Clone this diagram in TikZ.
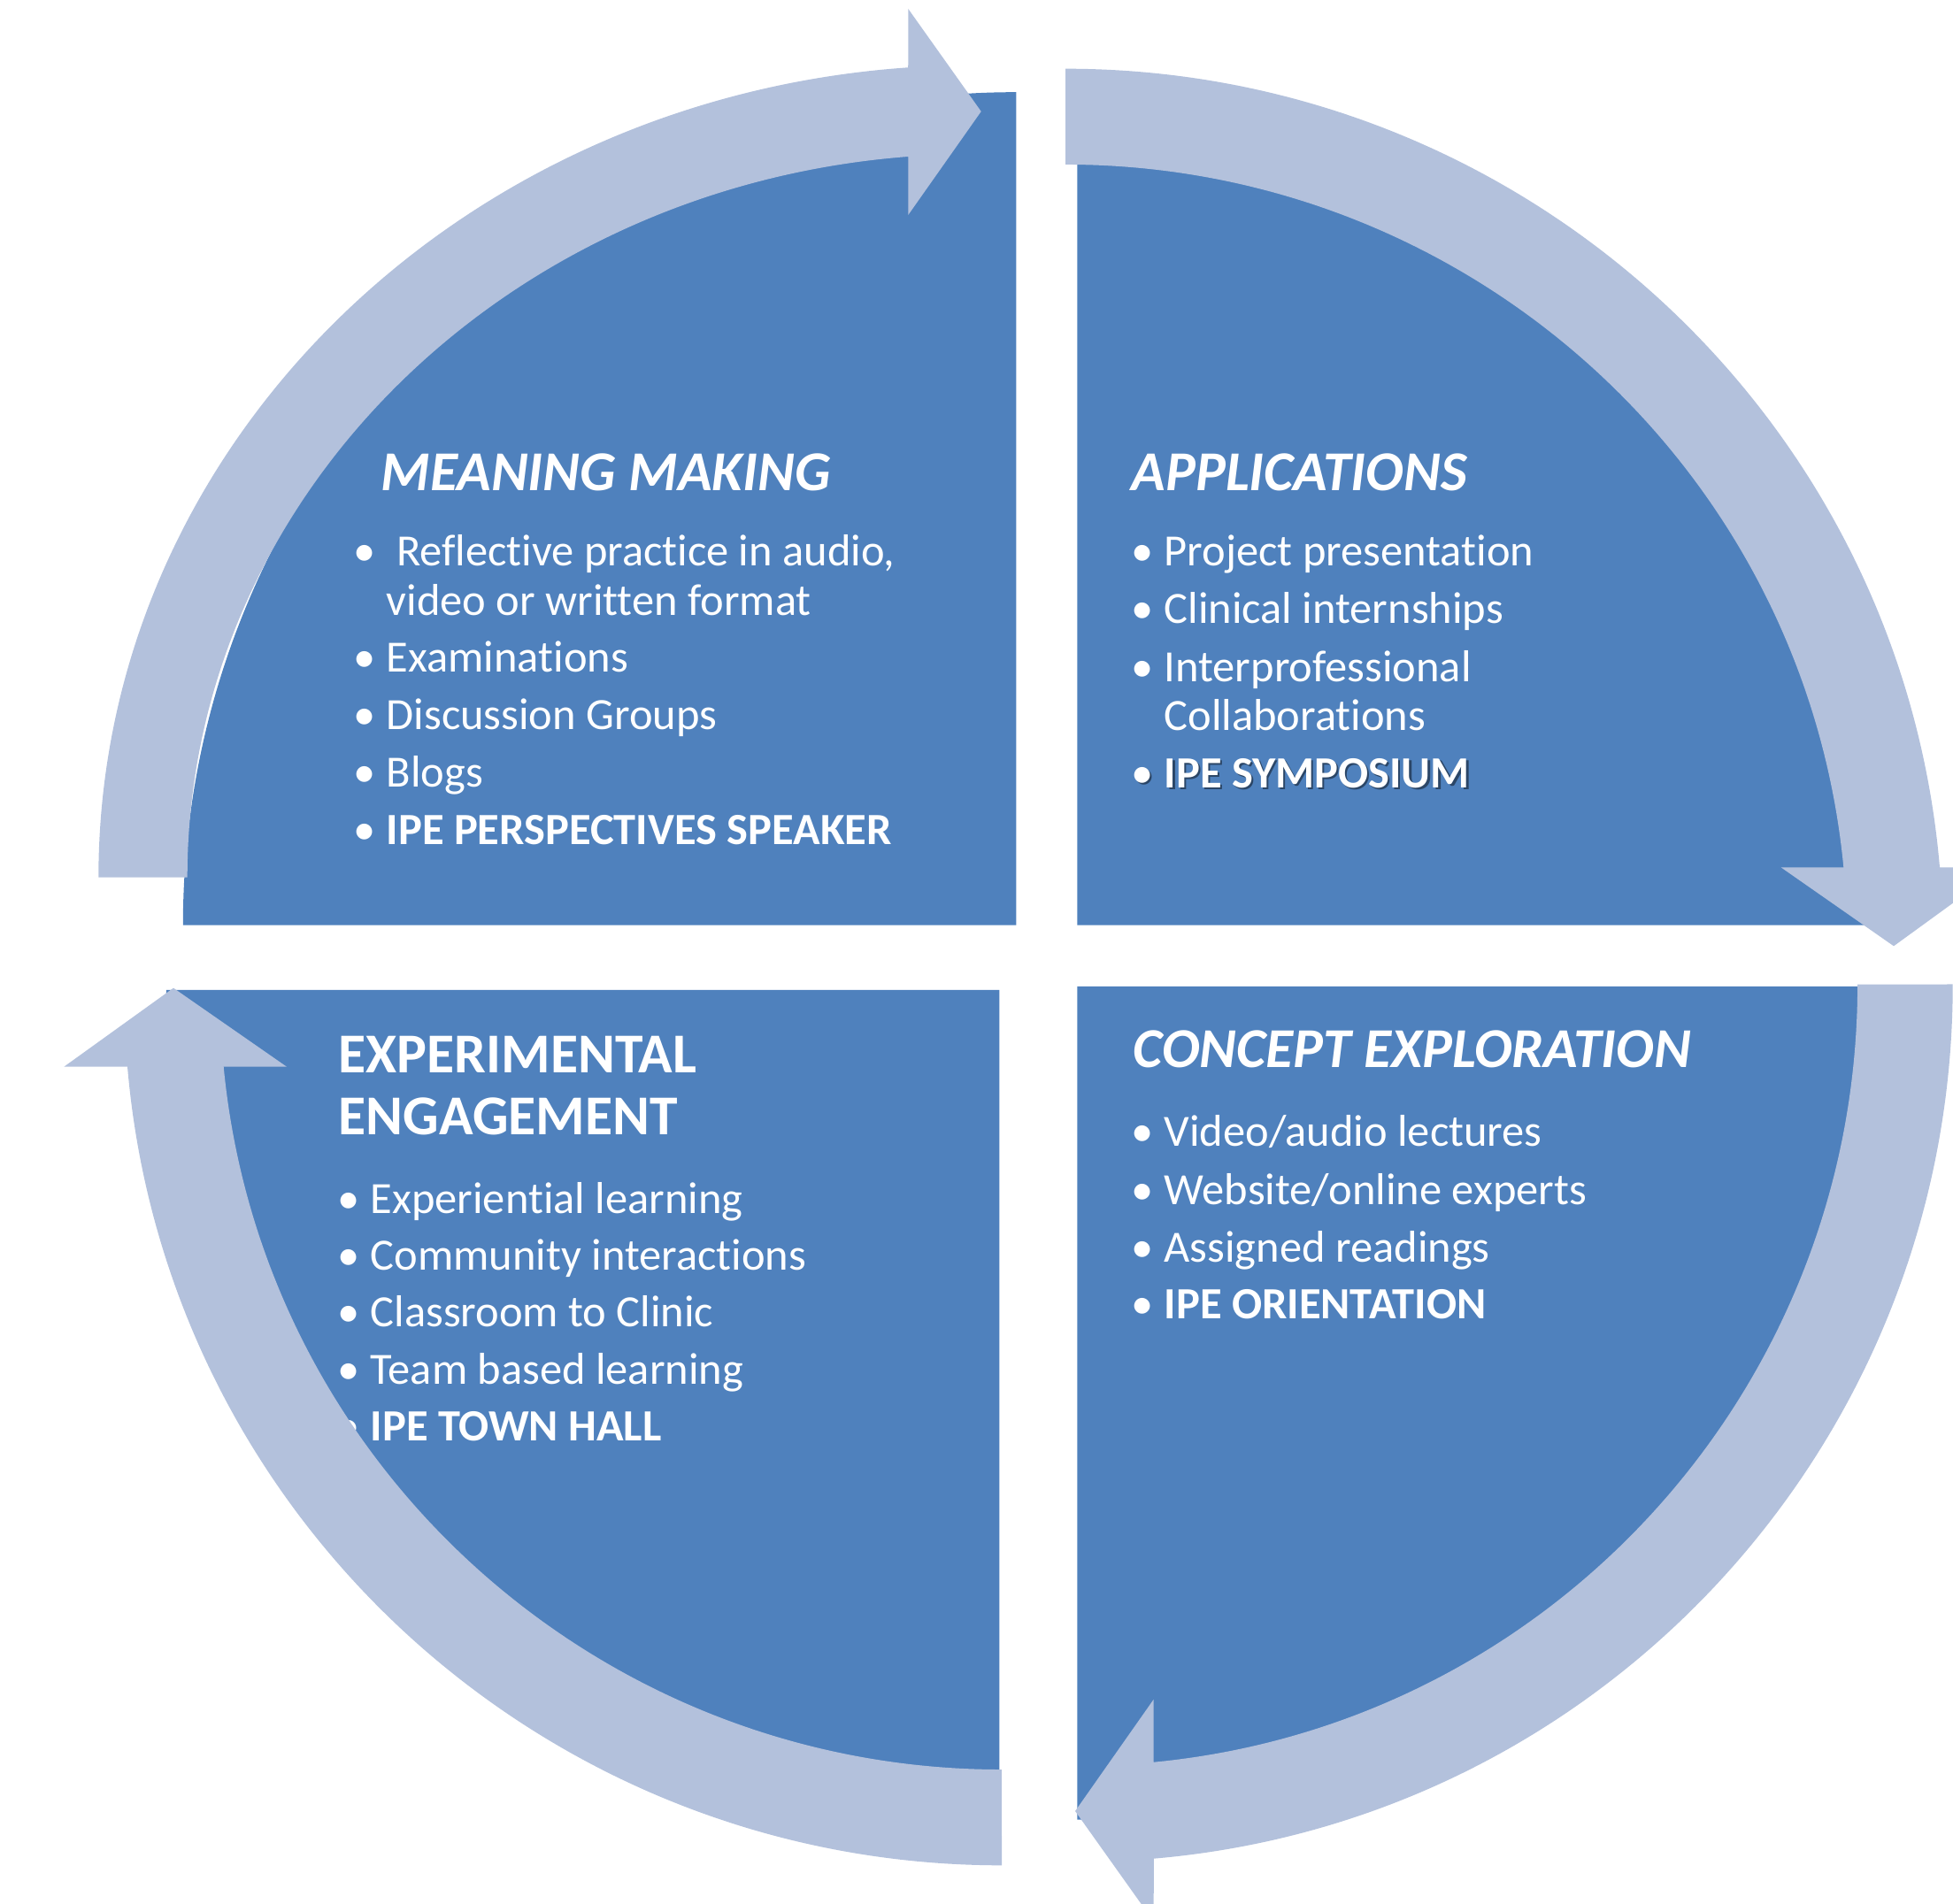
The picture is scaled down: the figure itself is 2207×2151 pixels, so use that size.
\documentclass[tikz,border=0pt]{standalone}
\usepackage{fontspec}
\setmainfont[Ligatures={NoCommon,NoContextual}]{Carlito}
\definecolor{pieblue}{RGB}{79,129,189}
\definecolor{arrowblue}{RGB}{179,193,220}
\newcommand\mybody{\fontsize{14.35pt}{16pt}\selectfont}
\newcommand\mytitle{\fontsize{18.1pt}{20pt}\selectfont\bfseries}
\begin{document}
\begin{tikzpicture}[x=0.01cm,y=0.01cm,
  pie/.style={fill=pieblue},
  cyc/.style={fill=arrowblue},
  ttl/.style={anchor=base west,inner sep=0,text=white,font=\mytitle},
  itl/.style={ttl,font=\mytitle\itshape},
  body/.style={anchor=base west,inner sep=0,text=white,font=\mybody},
  bbody/.style={body,font=\mybody\bfseries},
  bul/.style={anchor=base,inner sep=0,text=white,font=\mybody},
  shd/.style={text=black,opacity=0.45}]
\useasboundingbox (0,0) rectangle (2207,2151);
\clip (0,0) rectangle (2207,2151);
% quarter pies
\fill[pie] (1148.3,1105.3) -- (206.8,1105.3) arc[start angle=180,end angle=90,radius=941.5] -- cycle;
\fill[pie] (1217.3,1105.3) -- (1217.3,2046.8) arc[start angle=90,end angle=0,radius=941.5] -- cycle;
\fill[pie] (1217.3,1036) -- (2158.8,1036) arc[start angle=0,end angle=-90,radius=941.5] -- cycle;
\fill[pie] (1129.3,1032) -- (1129.3,90.5) arc[start angle=270,end angle=180,radius=941.5] -- cycle;
% MEANING MAKING
\node[itl] (mmt) at (430,1596.6) {MEANING MAKING};
\node[bul] (mmb1) at (412,1511) {•};
\node[body] (mm1) at (436,1511) {\ Reflective practice in audio,};
\node[body] (mm1b) at (436,1455) {video or written format};
\node[bul] (mmb2) at (412,1391) {•};
\node[body] (mm2) at (436,1391) {Examinations};
\node[bul] (mmb3) at (412,1326) {•};
\node[body] (mm3) at (436,1326) {Discussion Groups};
\node[bul] (mmb4) at (412,1261) {•};
\node[body] (mm4) at (436,1261) {Blogs};
\node[bul] (mmb5) at (412,1196) {•};
\node[bbody] (mm5) at (436,1196) {IPE PERSPECTIVES SPEAKER};
% APPLICATIONS
\node[itl] (apt) at (1278,1596) {APPLICATIONS};
\node[bul] (apb1) at (1291,1511) {•};
\node[body] (ap1) at (1315,1511) {Project presentation};
\node[bul] (apb2) at (1291,1446.5) {•};
\node[body] (ap2) at (1315,1446.5) {Clinical internships};
\node[bul] (apb3) at (1291,1380.5) {•};
\node[body] (ap3) at (1315,1380.5) {Interprofessional};
\node[body] (ap3b) at (1315,1325) {Collaborations};
\node[bul,shd] (apb4s) at (1293.5,1258) {•};
\node[bbody,shd] (ap4s) at (1317.5,1258) {IPE SYMPOSIUM};
\node[bul] (apb4) at (1291,1260.5) {•};
\node[bbody] (ap4) at (1315,1260.5) {IPE SYMPOSIUM};
% CONCEPT EXPLORATION
\node[itl] (cet) at (1280,944.5) {CONCEPT EXPLORATION};
\node[bul] (ceb1) at (1291,856) {•};
\node[body] (ce1) at (1315,856) {Video/audio lectures};
\node[bul] (ceb2) at (1291,790) {•};
\node[body] (ce2) at (1315,790) {Website/online experts};
\node[bul] (ceb3) at (1291,725) {•};
\node[body] (ce3) at (1315,725) {Assigned readings};
\node[bul] (ceb4) at (1291,661) {•};
\node[bbody] (ce4) at (1315,661) {IPE ORIENTATION};
% EXPERIMENTAL ENGAGEMENT
\node[ttl] (eet) at (382,939) {EXPERIMENTAL};
\node[ttl] (eet2) at (382,869) {ENGAGEMENT};
\node[bul] (eeb1) at (394,780) {•};
\node[body] (ee1) at (418,780) {Experiential learning};
\node[bul] (eeb2) at (394,716) {•};
\node[body] (ee2) at (418,716) {Community interactions};
\node[bul] (eeb3) at (394,652) {•};
\node[body] (ee3) at (418,652) {Classroom to Clinic};
\node[bul] (eeb4) at (394,587) {•};
\node[body] (ee4) at (418,587) {Team based learning};
\node[bul] (eeb5) at (394,523) {•};
\node[bbody] (ee5) at (418,523) {IPE TOWN HALL};
% circular arrows
\fill[cyc] (111.3,1159.3) arc[start angle=180,end angle=94.28,x radius=988.7,y radius=918] -- (1026.3,2141) -- (1108.7,2025) -- (1026.3,1908) -- (1026.3,1974) arc[start angle=94.76,end angle=180,x radius=888.3,y radius=817.5] -- cycle;
\fill[cyc] (1204,2073.3) arc[start angle=90,end angle=4.87,x radius=991.6,y radius=986.3] -- (2262.5,1170.7) -- (2140,1081.7) -- (2012.5,1170.7) -- (2083.3,1170.7) arc[start angle=5.47,end angle=90,x radius=883.3,y radius=878] -- cycle;
\fill[cyc] (2206.7,1038.5) arc[start angle=0,end angle=-85.13,x radius=986.7,y radius=991.8] -- (1303.7,-20.7) -- (1215,104) -- (1303.7,230.3) -- (1303.7,159.3) arc[start angle=-84.54,end angle=0,x radius=879,y radius=883.2] -- cycle;
\fill[cyc] (1132,42.7) arc[start angle=270,end angle=184.87,x radius=991.6,y radius=986.3] -- (72.3,945.3) -- (196,1034.3) -- (324,945.3) -- (252.7,945.3) arc[start angle=185.47,end angle=270,x radius=883.3,y radius=878] -- cycle;
\end{tikzpicture}
\end{document}
